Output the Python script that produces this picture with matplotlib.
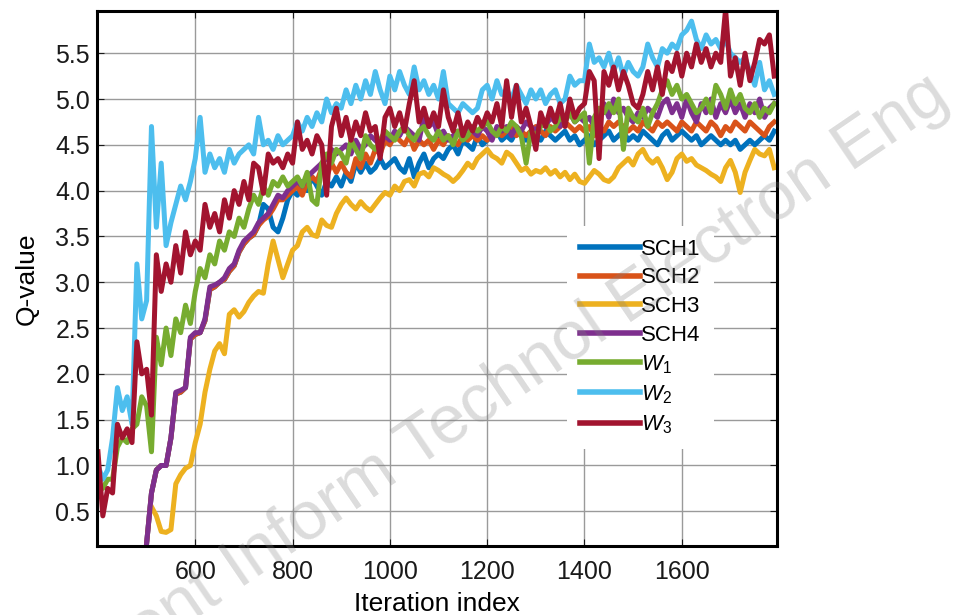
import numpy as np
import matplotlib.pyplot as plt

plt.rcParams['font.family'] = ['Liberation Sans', 'DejaVu Sans']
plt.rcParams['mathtext.fontset'] = 'custom'
plt.rcParams['mathtext.it'] = 'Liberation Sans:italic'
plt.rcParams['mathtext.rm'] = 'Liberation Sans'

nan = np.nan
iters = np.arange(400, 1800, 10)

sch1 = [nan] * 10 + [
    0.15, 0.70, 0.95, 1.00, 1.00, 1.30, 1.78, 1.80, 1.85, 2.38,
    2.43, 2.45, 2.58, 2.92, 2.95, 3.00, 3.03, 3.12, 3.18, 3.33,
    3.42, 3.48, 3.52, 3.62, 3.85, 3.80, 3.60, 3.55, 3.70, 3.90,
    4.00, 3.95, 4.10, 4.00, 4.15, 4.05, 3.95, 4.10, 4.05, 4.15,
    4.05, 4.20, 4.10, 4.30, 4.20, 4.30, 4.20, 4.25, 4.35, 4.25,
    4.30, 4.35, 4.25, 4.20, 4.35, 4.15, 4.30, 4.40, 4.25, 4.35,
    4.40, 4.35, 4.45, 4.50, 4.40, 4.55, 4.50, 4.45, 4.60, 4.50,
    4.55, 4.60, 4.65, 4.55, 4.60, 4.55, 4.65, 4.60, 4.55, 4.65,
    4.60, 4.55, 4.65, 4.60, 4.55, 4.60, 4.65, 4.55, 4.60, 4.50,
    4.55, 4.60, 4.50, 4.55, 4.60, 4.65, 4.55, 4.60, 4.65, 4.55,
    4.60, 4.55, 4.65, 4.60, 4.55, 4.50, 4.60, 4.65, 4.55, 4.60,
    4.65, 4.60, 4.55, 4.60, 4.50, 4.55, 4.60, 4.55, 4.50, 4.55,
    4.50, 4.55, 4.45, 4.50, 4.55, 4.50, 4.55, 4.60, 4.55, 4.65]

sch2 = [nan] * 10 + [
    0.15, 0.70, 0.95, 1.00, 1.00, 1.30, 1.78, 1.80, 1.85, 2.38,
    2.43, 2.45, 2.58, 2.92, 2.95, 3.00, 3.03, 3.12, 3.18, 3.33,
    3.42, 3.48, 3.52, 3.62, 3.68, 3.72, 3.80, 3.90, 3.90, 3.95,
    4.00, 4.05, 3.95, 4.10, 4.15, 4.10, 4.25, 4.15, 4.30, 4.20,
    4.30, 4.20, 4.15, 4.35, 4.25, 4.40, 4.30, 4.45, 4.40, 4.55,
    4.50, 4.60, 4.55, 4.50, 4.60, 4.45, 4.55, 4.50, 4.55, 4.45,
    4.55, 4.50, 4.60, 4.55, 4.50, 4.60, 4.55, 4.60, 4.55, 4.60,
    4.55, 4.60, 4.65, 4.60, 4.65, 4.70, 4.60, 4.65, 4.60, 4.65,
    4.70, 4.65, 4.60, 4.70, 4.65, 4.70, 4.75, 4.70, 4.65, 4.70,
    4.65, 4.70, 4.60, 4.70, 4.65, 4.75, 4.70, 4.75, 4.70, 4.65,
    4.70, 4.65, 4.75, 4.70, 4.65, 4.75, 4.70, 4.75, 4.70, 4.65,
    4.75, 4.70, 4.65, 4.75, 4.70, 4.65, 4.75, 4.70, 4.60, 4.70,
    4.65, 4.75, 4.70, 4.65, 4.75, 4.70, 4.65, 4.60, 4.70, 4.75]

sch3 = [nan] * 10 + [
    nan, 0.55, 0.45, 0.28, 0.27, 0.30, 0.80, 0.90, 0.97, 1.00,
    1.25, 1.45, 1.80, 2.05, 2.25, 2.33, 2.22, 2.65, 2.70, 2.62,
    2.68, 2.78, 2.85, 2.90, 2.88, 3.20, 3.45, 3.25, 3.05, 3.20,
    3.35, 3.40, 3.55, 3.60, 3.52, 3.50, 3.68, 3.62, 3.60, 3.75,
    3.85, 3.92, 3.85, 3.80, 3.88, 3.82, 3.78, 3.85, 3.92, 3.98,
    3.95, 4.05, 4.00, 4.10, 4.12, 4.05, 4.18, 4.20, 4.15, 4.25,
    4.22, 4.18, 4.15, 4.10, 4.15, 4.22, 4.30, 4.25, 4.35, 4.40,
    4.45, 4.38, 4.35, 4.30, 4.42, 4.38, 4.30, 4.22, 4.25, 4.18,
    4.22, 4.20, 4.25, 4.18, 4.22, 4.15, 4.20, 4.12, 4.18, 4.10,
    4.08, 4.15, 4.22, 4.18, 4.12, 4.10, 4.15, 4.25, 4.30, 4.35,
    4.28, 4.40, 4.45, 4.35, 4.30, 4.35, 4.25, 4.12, 4.20, 4.35,
    4.40, 4.32, 4.35, 4.28, 4.25, 4.22, 4.18, 4.15, 4.10, 4.25,
    4.33, 4.20, 3.98, 4.20, 4.33, 4.45, 4.40, 4.38, 4.45, 4.25]

sch4 = [nan] * 10 + [
    0.15, 0.70, 0.95, 1.00, 1.00, 1.30, 1.80, 1.82, 1.85, 2.40,
    2.45, 2.45, 2.60, 2.95, 2.97, 3.00, 3.05, 3.15, 3.20, 3.35,
    3.45, 3.50, 3.55, 3.65, 3.70, 3.75, 3.85, 3.95, 3.92, 4.00,
    4.05, 4.10, 4.05, 4.15, 4.20, 4.25, 4.30, 4.35, 4.45, 4.40,
    4.45, 4.50, 4.40, 4.55, 4.45, 4.50, 4.60, 4.55, 4.50, 4.60,
    4.55, 4.65, 4.60, 4.70, 4.65, 4.60, 4.55, 4.80, 4.70, 4.75,
    4.60, 4.65, 4.55, 4.60, 4.65, 4.60, 4.70, 4.65, 4.60, 4.70,
    4.65, 4.55, 4.70, 4.65, 4.70, 4.60, 4.70, 4.65, 4.75, 4.70,
    4.65, 4.75, 4.70, 4.80, 4.75, 4.70, 4.80, 4.85, 4.75, 4.80,
    4.75, 4.80, 4.70, 4.85, 4.95, 4.80, 5.00, 4.85, 4.90, 4.80,
    4.75, 4.85, 4.80, 4.90, 4.85, 4.80, 4.95, 5.00, 4.85, 4.95,
    4.80, 5.00, 4.85, 4.75, 4.95, 4.85, 5.00, 4.80, 4.95, 4.85,
    5.00, 4.85, 4.95, 4.80, 4.95, 4.85, 5.00, 4.80, 4.90, 4.95]

w1 = [
    0.80, 0.75, 0.85, 0.85, 1.20, 1.30, 1.25, 1.40, 1.45, 1.75,
    1.65, 1.15, 2.40, 2.10, 2.50, 2.20, 2.60, 2.45, 2.75, 2.55,
    2.90, 3.15, 3.05, 3.30, 3.20, 3.45, 3.35, 3.55, 3.50, 3.70,
    3.60, 3.80, 3.95, 3.85, 4.05, 3.95, 4.10, 4.05, 4.15, 4.05,
    4.10, 4.15, 4.05, 4.20, 3.90, 3.85, 4.30, 4.40, 4.30, 4.45,
    4.40, 4.30, 4.55, 4.45, 4.35, 4.60, 4.50, 4.45, 4.55, 4.65,
    4.60, 4.55, 4.65, 4.70, 4.60, 4.55, 4.65, 4.70, 4.60, 4.55,
    4.65, 4.55, 4.60, 4.50, 4.65, 4.55, 4.60, 4.70, 4.65, 4.70,
    4.75, 4.65, 4.60, 4.70, 4.65, 4.75, 4.70, 4.60, 4.30, 4.65,
    4.60, 4.70, 4.75, 4.65, 4.70, 4.80, 4.75, 4.85, 4.75, 4.80,
    4.85, 4.30, 4.80, 4.90, 4.85, 4.95, 4.85, 5.00, 4.45, 4.90,
    4.80, 4.75, 4.90, 4.70, 4.85, 4.95, 5.10, 5.20, 5.05, 5.15,
    5.00, 5.05, 4.95, 4.85, 4.90, 5.00, 4.85, 5.15, 5.05, 4.90,
    5.10, 4.95, 5.05, 4.90, 4.85, 4.95, 4.80, 4.90, 4.85, 4.95]

w2 = [
    1.00, 0.85, 0.95, 1.30, 1.85, 1.60, 1.75, 1.45, 3.20, 2.60,
    2.80, 4.70, 3.60, 4.30, 3.40, 3.65, 3.85, 4.05, 3.90, 4.10,
    4.35, 4.80, 4.20, 4.40, 4.25, 4.35, 4.20, 4.45, 4.30, 4.40,
    4.45, 4.50, 4.40, 4.80, 4.50, 4.55, 4.45, 4.60, 4.50, 4.55,
    4.60, 4.75, 4.65, 4.80, 4.70, 4.85, 4.75, 5.00, 4.85, 4.95,
    4.90, 5.10, 4.95, 5.15, 5.00, 5.20, 5.05, 5.30, 5.10, 4.95,
    5.25, 5.10, 5.30, 5.15, 5.05, 5.35, 5.10, 5.20, 5.05, 5.15,
    5.00, 5.30, 4.95, 4.90, 4.85, 4.95, 4.90, 4.85, 4.90, 5.10,
    5.15, 5.00, 5.20, 5.05, 5.10, 5.00, 5.15, 5.05, 4.95, 5.10,
    5.00, 5.10, 4.95, 5.05, 5.10, 4.95, 5.00, 5.25, 5.15, 5.20,
    5.20, 5.60, 5.40, 5.45, 5.35, 5.50, 5.30, 5.45, 5.25, 5.40,
    5.30, 5.25, 5.35, 5.60, 5.45, 5.35, 5.55, 5.50, 5.60, 5.55,
    5.70, 5.75, 5.85, 5.65, 5.55, 5.70, 5.60, 5.65, 5.55, 5.65,
    5.50, 5.45, 5.40, 5.45, 5.30, 5.15, 5.40, 5.10, 5.20, 5.05]

w3 = [
    1.15, 0.45, 0.75, 0.70, 1.45, 1.30, 1.40, 1.25, 2.35, 2.00,
    2.05, 1.55, 3.30, 2.90, 3.20, 3.00, 3.40, 3.10, 3.55, 3.30,
    3.45, 3.35, 3.85, 3.60, 3.75, 3.55, 3.90, 3.70, 4.00, 3.85,
    4.10, 3.90, 4.30, 4.25, 3.97, 4.40, 4.30, 4.35, 4.25, 4.40,
    4.30, 4.75, 4.45, 4.55, 4.40, 4.60, 4.50, 3.95, 4.70, 4.90,
    4.60, 4.80, 4.55, 4.75, 4.60, 4.85, 4.65, 4.70, 4.35, 4.80,
    4.90, 4.70, 4.85, 4.65, 4.95, 5.20, 4.75, 4.90, 4.70, 4.85,
    4.70, 5.10, 4.80, 4.65, 4.85, 4.60, 4.75, 4.65, 4.80, 4.70,
    4.85, 4.75, 4.95, 4.70, 5.20, 4.80, 5.15, 4.75, 4.90, 4.70,
    4.45, 4.85, 4.70, 4.90, 4.75, 4.95, 4.70, 5.00, 4.80, 4.90,
    4.95, 5.30, 5.20, 4.35, 5.30, 5.15, 5.35, 5.10, 5.30, 5.15,
    4.95, 4.90, 5.05, 5.30, 5.10, 5.35, 5.05, 5.40, 5.30, 5.50,
    5.25, 5.50, 5.35, 5.60, 5.40, 5.55, 5.35, 5.50, 5.40, 5.98,
    5.25, 5.45, 5.15, 5.50, 5.20, 5.40, 5.65, 5.60, 5.70, 5.25]

labels = ['SCH1', 'SCH2', 'SCH3', 'SCH4', '$W_1$', '$W_2$', '$W_3$']
colors = ['#0072BD', '#D95319', '#EDB120', '#7E2F8E', '#77AC30', '#4DBEEE', '#A2142F']
series = [sch1, sch2, sch3, sch4, w1, w2, w3]

fig = plt.figure(figsize=(9.66, 6.15), dpi=100)
ax = fig.add_axes([0.1004, 0.112, 0.7036, 0.870])

for ys, lab, c in zip(series, labels, colors):
    ax.plot(iters, ys, color=c, lw=3.6, label=lab)

ax.set_xlim(398, 1795)
ax.set_ylim(0.12, 5.96)
ax.set_xticks([600, 800, 1000, 1200, 1400, 1600])
ax.set_yticks(np.arange(0.5, 5.51, 0.5))
ax.set_yticklabels([f'{v:.1f}' for v in np.arange(0.5, 5.51, 0.5)])
ax.grid(True, color='#9a9a9a', lw=1.0)
ax.tick_params(direction='in', labelsize=18, length=5, colors='#1a1a1a',
               top=True, right=True)
ax.tick_params(axis='x', pad=10)
ax.tick_params(axis='y', pad=5)
for s in ax.spines.values():
    s.set_linewidth(2.2)
ax.set_xlabel('Iteration index', fontsize=19, labelpad=6)
ax.set_ylabel('Q-value', fontsize=19, labelpad=12)

leg = ax.legend(loc='upper left', bbox_to_anchor=(0.675, 0.62), frameon=True,
                fancybox=False, edgecolor='none', facecolor='white', framealpha=1,
                fontsize=16, handlelength=2.7, handletextpad=0.05,
                labelspacing=0.34, borderpad=0.6)
for line in leg.get_lines():
    line.set_linewidth(4)

fig.text(0.529, 0.379, 'Front Inform Technol Electron Eng', fontsize=49.5,
         color='#808080', alpha=0.28, rotation=34.3, ha='center', va='center',
         rotation_mode='anchor', zorder=10)

fig.savefig('out.png', dpi=100)
